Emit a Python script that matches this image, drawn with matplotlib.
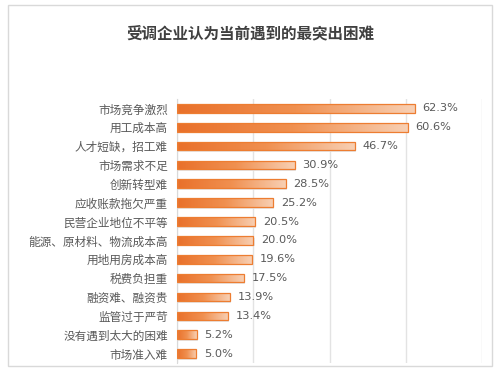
import numpy as np
import matplotlib
matplotlib.use("Agg")
import matplotlib.pyplot as plt
from matplotlib.patches import Rectangle
from matplotlib.colors import LinearSegmentedColormap

plt.rcParams['font.family'] = ['Noto Sans CJK SC', 'DejaVu Sans']

title = "受调企业认为当前遇到的最突出困难"
categories = ["市场竞争激烈", "用工成本高", "人才短缺，招工难", "市场需求不足", "创新转型难",
              "应收账款拖欠严重", "民营企业地位不平等", "能源、原材料、物流成本高", "用地用房成本高",
              "税费负担重", "融资难、融资贵", "监管过于严苛", "没有遇到太大的困难", "市场准入难"]
values = [62.3, 60.6, 46.7, 30.9, 28.5, 25.2, 20.5, 20.0, 19.6, 17.5, 13.9, 13.4, 5.2, 5.0]

fig = plt.figure(figsize=(5.0, 3.72), dpi=100)
fig.patch.set_facecolor('white')
ax = fig.add_axes([0.354, 0.0242, 0.61, 0.7098])

# frame around chart
fig.patches.append(Rectangle((8/500, 1-366/372), 484/500, 361/372, transform=fig.transFigure,
                             fill=False, edgecolor='#D9D9D9', linewidth=1.0, zorder=0))

y = np.arange(len(categories))
h = 0.46
cmap = LinearSegmentedColormap.from_list('og', ['#E9702A', '#F09050', '#F8D0B4'])
grad = np.linspace(0, 1, 256).reshape(1, -1)

# shadows
for yi, v in zip(y, values):
    ax.add_patch(Rectangle((0, yi - h/2 + 0.09), v + 0.35, h, facecolor='#E3E3E3',
                           edgecolor='none', alpha=0.85, zorder=1.5))

bars = ax.barh(y, values, height=h, color='none', edgecolor='#ED7D31', linewidth=0.9, zorder=3)
for b in bars:
    x0, y0 = b.get_x(), b.get_y()
    w, hh = b.get_width(), b.get_height()
    im = ax.imshow(grad, cmap=cmap, aspect='auto', extent=[x0, x0 + w, y0 + hh, y0],
                   zorder=2.5, interpolation='bilinear')
    im.set_clip_path(b)

for yi, v in zip(y, values):
    ax.text(v + 2.0, yi, f"{v:.1f}%", va='center', ha='left', fontsize=8.2,
            color='#595959', family=['DejaVu Sans'])

ax.set_xlim(0, 80)
ax.set_ylim(len(categories) - 0.5, -0.5)
ax.set_xticks([0, 20, 40, 60, 80])
ax.xaxis.grid(True, color='#E3E3E3', linewidth=1.0)
ax.set_axisbelow(True)
ax.tick_params(axis='x', bottom=False, labelbottom=False)
ax.set_yticks(y)
ax.set_yticklabels(categories, fontsize=8.4, color='#595959')
ax.tick_params(axis='y', length=0, pad=6.5)
for s in ['top', 'right', 'bottom']:
    ax.spines[s].set_visible(False)
ax.spines['left'].set_color('#D9D9D9')

fig.text(0.5, 1 - 33/372, title, ha='center', va='center', fontsize=11.2,
         fontweight='bold', color='#404040')

fig.savefig('out.png', dpi=100, facecolor='white')
